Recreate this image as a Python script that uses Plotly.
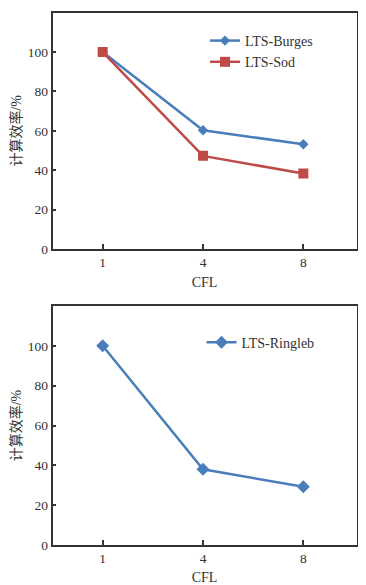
import plotly.graph_objects as go

categories = ["1", "4", "8"]
burgers = [100, 60.3, 53.2]
sod = [100, 47.3, 38.3]
ringleb = [100, 38.0, 29.2]
y_ticks = [0, 20, 40, 60, 80, 100]

blue = "#4a7ebb"
red = "#be4b48"
axis_color = "#333333"
serif = "Liberation Serif, Times New Roman, serif"
cjk = "Liberation Serif, Noto Sans CJK SC, serif"

W, H = 358, 577  # page body has an 8px margin


def px_x(p):
    return (p - 8) / W


def px_y(p):
    return 1 - (p - 8) / H


fig = go.Figure()
fig.add_trace(go.Scatter(x=categories, y=burgers, name="LTS-Burges", mode="lines+markers",
                         line=dict(color=blue, width=2.5),
                         marker=dict(symbol="diamond", size=8, color=blue),
                         xaxis="x", yaxis="y", legend="legend"))
fig.add_trace(go.Scatter(x=categories, y=sod, name="LTS-Sod", mode="lines+markers",
                         line=dict(color=red, width=2.5),
                         marker=dict(symbol="square", size=10, color=red),
                         xaxis="x", yaxis="y", legend="legend"))
fig.add_trace(go.Scatter(x=categories, y=ringleb, name="LTS-Ringleb", mode="lines+markers",
                         line=dict(color=blue, width=2.5),
                         marker=dict(symbol="diamond", size=10, color=blue),
                         xaxis="x2", yaxis="y2", legend="legend2"))

xdom = [px_x(52.5), px_x(356.5)]
common_x = dict(type="category", range=[-0.5, 2.53], showline=True, linecolor=axis_color,
                linewidth=1.5, mirror=True, ticks="inside", ticklen=5, tickcolor=axis_color,
                tickwidth=1.5, showgrid=False, zeroline=False, automargin=False,
                tickfont=dict(family=serif, size=13.5, color="#333"),
                title=dict(text="CFL", font=dict(family=serif, size=14, color="#333"), standoff=8))
common_y = dict(range=[0, 120], tickvals=y_ticks, showline=True, linecolor=axis_color,
                linewidth=1.5, mirror=True, ticks="inside", ticklen=4, tickcolor=axis_color,
                tickwidth=1.5, showgrid=False, zeroline=False, automargin=False,
                tickfont=dict(family=serif, size=13.5, color="#333"),
                title=dict(text="计算效率/%", font=dict(family=cjk, size=14, color="#333"), standoff=4))

fig.update_layout(
    width=W, height=H,
    margin=dict(l=0, r=0, t=0, b=0),
    paper_bgcolor="white", plot_bgcolor="white",
    xaxis=dict(domain=xdom, anchor="y", **common_x),
    yaxis=dict(domain=[px_y(249), px_y(12.7)], anchor="x", **common_y),
    xaxis2=dict(domain=xdom, anchor="y2", **common_x),
    yaxis2=dict(domain=[px_y(545), px_y(306)], anchor="x2", **common_y),
    legend=dict(x=px_x(205), y=px_y(25), xanchor="left", yanchor="top",
                bgcolor="rgba(0,0,0,0)", font=dict(family=serif, size=14, color="#333"),
                tracegroupgap=0, itemwidth=30),
    legend2=dict(x=px_x(201.5), y=px_y(326.7), xanchor="left", yanchor="top",
                 bgcolor="rgba(0,0,0,0)", font=dict(family=serif, size=14, color="#333"),
                 itemwidth=30),
)

fig.write_html("out.html")
